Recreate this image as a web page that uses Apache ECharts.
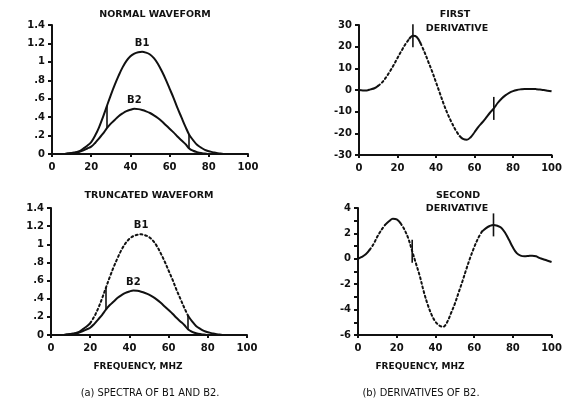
<!DOCTYPE html>
<html>
<head>
<meta charset="utf-8">
<script src="https://cdn.jsdelivr.net/npm/echarts@6/dist/echarts.min.js"></script>
<style>
  html, body { margin: 0; padding: 0; background: #fff; }
  #chart { width: 565px; height: 408px; }
</style>
</head>
<body>
<div id="chart"></div>
<script>
// ---------------- data ----------------
const FREQ = [0,2,4,6,8,10,12,14,16,18,20,22,24,26,28,30,32,34,36,38,40,42,44,46,48,50,
              52,54,56,58,60,62,64,66,68,70,72,74,76,78,80,82,84,86,88,90,92,94,96,98,100];

const B1 = [0,0,0,0,0.005,0.01,0.02,0.03,0.06,0.09,0.13,0.2,0.29,0.4,0.52,0.64,0.75,0.85,0.94,1.01,1.06,1.09,1.105,1.11,1.1,1.08,
            1.04,0.98,0.9,0.81,0.71,0.61,0.5,0.4,0.3,0.21,0.15,0.1,0.07,0.045,0.03,0.02,0.01,0.005,0,0,0,0,0,0,0];

const B2 = [0,0,0,0,0.005,0.01,0.015,0.025,0.04,0.06,0.08,0.12,0.17,0.22,0.28,0.33,0.37,0.41,0.44,0.465,0.48,0.49,0.487,0.477,0.463,0.445,
            0.42,0.39,0.355,0.315,0.275,0.235,0.19,0.15,0.11,0.06,0.035,0.02,0.01,0.005,0,0,0,0,0,0,0,0,0,0,0];

const D1 = [0,-0.2,-0.2,0.3,0.8,2,3.5,5.8,8.5,11.5,14.8,18,21,23.5,25,24.5,21.5,17.5,13,8.5,3.5,-1.5,-6.5,-11,-14.8,-18.2,
            -21,-22.6,-23,-21.8,-19.5,-17,-15,-12.8,-10.5,-8.5,-6,-4,-2.5,-1.3,-0.5,0,0.3,0.5,0.5,0.5,0.4,0.2,0,-0.3,-0.6];

const D2 = [0,0.15,0.35,0.7,1.15,1.75,2.25,2.67,2.95,3.15,3.1,2.8,2.3,1.6,0.6,-0.4,-1.4,-2.6,-3.6,-4.4,-4.95,-5.25,-5.35,-5,-4.3,-3.55,
            -2.65,-1.75,-0.8,0.1,0.9,1.6,2.14,2.4,2.58,2.67,2.6,2.45,2.05,1.5,0.9,0.45,0.25,0.2,0.22,0.25,0.2,0.05,-0.05,-0.15,-0.25];

const TRUNC_FREQS = [28, 70];          // truncation points (marks)
const X_TICKS = [0, 20, 40, 60, 80, 100];

const TITLES = {
  normal: 'NORMAL WAVEFORM',
  truncated: 'TRUNCATED WAVEFORM',
  first: ['FIRST', 'DERIVATIVE'],
  second: ['SECOND', 'DERIVATIVE'],
  xname: 'FREQUENCY, MHZ',
  capA: '(a) SPECTRA OF B1 AND B2.',
  capB: '(b) DERIVATIVES OF B2.'
};

// ---------------- styles ----------------
const INK = '#111';
const PLOT_FONT = 'DejaVu Sans';
const CAP_FONT = '"Liberation Sans Narrow", "DejaVu Sans Condensed", sans-serif';
const DOTS = [2, 2.8];
const SMOOTH = 0.35;

// line style segments (frequency ranges)
const SEG_B1_TRUNC = [[0, 20, 'solid'], [20, 70, 'dot'], [70, 100, 'solid']];
const SEG_D1 = [[0, 10, 'solid'], [10, 26, 'dot'], [26, 32, 'solid'], [32, 52, 'dot'], [52, 100, 'solid']];
const SEG_D2 = [[0, 6, 'solid'], [6, 14, 'dot'], [14, 22, 'solid'], [22, 64, 'dot'], [64, 100, 'solid']];
const SEG_ALL = [[0, 100, 'solid']];

function idxOf(f) { return FREQ.indexOf(f); }

function segSeries(g, arr, segs) {
  return segs.map(([lo, hi, kind]) => ({
    type: 'line', xAxisIndex: g, yAxisIndex: g,
    data: FREQ.map((f, i) => [f, (f >= lo && f <= hi) ? arr[i] : null]),
    showSymbol: false, symbol: 'none', silent: true, animation: false,
    connectNulls: false, smooth: SMOOTH,
    lineStyle: kind === 'dot'
      ? { color: INK, width: 2, type: DOTS, cap: 'round' }
      : { color: INK, width: 2, type: 'solid', join: 'round' }
  }));
}

function carrier(g, arr, extra) {
  return Object.assign({
    type: 'line', xAxisIndex: g, yAxisIndex: g,
    data: FREQ.map((f, i) => [f, arr[i]]),
    showSymbol: false, symbol: 'none', silent: true, animation: false,
    lineStyle: { opacity: 0 }, z: 5
  }, extra);
}

function peakLabel(text) {
  return {
    symbol: 'circle', symbolSize: 1, itemStyle: { color: 'rgba(0,0,0,0)' },
    data: [{ type: 'max' }],
    label: { show: true, position: 'top', distance: 3, formatter: text,
             color: INK, fontFamily: PLOT_FONT, fontWeight: 'bold', fontSize: 10 }
  };
}

function betweenMarks() {
  return {
    symbol: 'none', silent: true, animation: false,
    label: { show: false },
    lineStyle: { color: INK, width: 1.6, type: 'solid', opacity: 1 },
    data: TRUNC_FREQS.map(f => [{ coord: [f, B2[idxOf(f)]] }, { coord: [f, B1[idxOf(f)]] }])
  };
}

function crossMarks(arr) {
  return {
    symbol: 'rect', symbolSize: [1.6, 23], silent: true, animation: false,
    itemStyle: { color: INK },
    label: { show: false },
    data: TRUNC_FREQS.map(f => ({ coord: [f, arr[idxOf(f)]] }))
  };
}

const axisText = { color: INK, fontFamily: PLOT_FONT, fontWeight: 'bold', fontSize: 10 };
function xAx(g) {
  return {
    type: 'value', gridIndex: g, min: 0, max: 100, interval: 20,
    axisLine: { show: true, onZero: false, lineStyle: { color: INK, width: 2 } },
    axisTick: { show: true, length: 3, lineStyle: { color: INK, width: 2 } },
    axisLabel: Object.assign({ margin: 8 }, axisText),
    splitLine: { show: false }
  };
}
function yAx(g, min, max, interval, fmt, minor) {
  return {
    type: 'value', gridIndex: g, min, max, interval,
    axisLine: { show: true, onZero: false, lineStyle: { color: INK, width: 2 } },
    axisTick: { show: true, length: 4, lineStyle: { color: INK, width: 2 } },
    minorTick: { show: !!minor, splitNumber: 2, length: 4, lineStyle: { color: INK, width: 2 } },
    axisLabel: Object.assign({ margin: 7, formatter: fmt }, axisText),
    splitLine: { show: false }, minorSplitLine: { show: false }
  };
}
const fmtFrac = v => { let s = (Math.round(v * 10) / 10).toString(); if (s.startsWith('0.')) s = s.slice(1); return s; };
const fmtInt = v => String(Math.round(v));

function txt(x, y, text, font, align) {
  return { type: 'text', x, y, silent: true,
    style: { text, fill: INK, font, textAlign: align || 'center', textVerticalAlign: 'middle' } };
}

const chart = echarts.init(document.getElementById('chart'), null, { renderer: 'canvas' });

const series = [
  // top-left: normal waveform
  ...segSeries(0, B1, SEG_ALL),
  ...segSeries(0, B2, SEG_ALL),
  carrier(0, B1, { markPoint: peakLabel('B1'), markLine: betweenMarks() }),
  carrier(0, B2, { markPoint: peakLabel('B2') }),
  // bottom-left: truncated waveform
  ...segSeries(1, B1, SEG_B1_TRUNC),
  ...segSeries(1, B2, SEG_ALL),
  carrier(1, B1, { markPoint: peakLabel('B1'), markLine: betweenMarks() }),
  carrier(1, B2, { markPoint: peakLabel('B2') }),
  // top-right: first derivative
  ...segSeries(2, D1, SEG_D1),
  carrier(2, D1, { markPoint: crossMarks(D1) }),
  // bottom-right: second derivative
  ...segSeries(3, D2, SEG_D2),
  carrier(3, D2, { markPoint: crossMarks(D2) })
];

const TFONT = 'bold 9.5px "DejaVu Sans"';
const XFONT = 'bold 9px "DejaVu Sans"';
const CFONT = '11px ' + CAP_FONT;

chart.setOption({
  backgroundColor: '#fff',
  animation: false,
  grid: [
    { left: 52, top: 25, width: 196, height: 129 },
    { left: 51, top: 208, width: 196, height: 127 },
    { left: 359, top: 25, width: 196, height: 130 },
    { left: 358, top: 208, width: 194, height: 127 }
  ],
  xAxis: [xAx(0), xAx(1), xAx(2), xAx(3)],
  yAxis: [
    yAx(0, 0, 1.4, 0.2, fmtFrac),
    yAx(1, 0, 1.4, 0.2, fmtFrac),
    yAx(2, -30, 30, 10, fmtInt),
    yAx(3, -6, 4, 2, fmtInt, true)
  ],
  series,
  graphic: [
    txt(155, 15, TITLES.normal, TFONT),
    txt(149, 196, TITLES.truncated, TFONT),
    txt(455, 15, TITLES.first[0], TFONT),
    txt(457, 28.5, TITLES.first[1], TFONT),
    txt(458, 196, TITLES.second[0], TFONT),
    txt(457, 208.5, TITLES.second[1], TFONT),
    txt(138, 367, TITLES.xname, XFONT),
    txt(420, 367, TITLES.xname, XFONT),
    txt(150, 393, TITLES.capA, CFONT),
    txt(421, 393, TITLES.capB, CFONT)
  ]
});
</script>
</body>
</html>
